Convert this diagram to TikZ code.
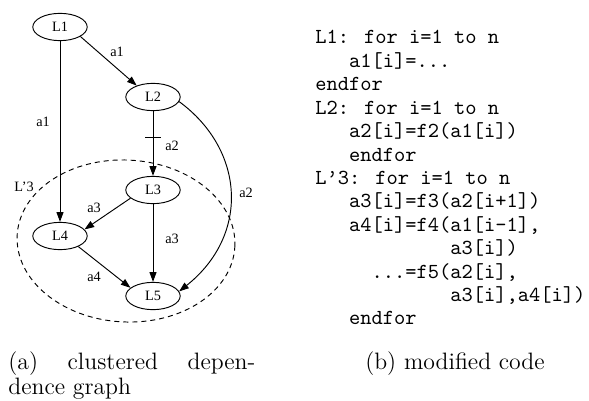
\documentclass[tikz,border=0pt]{standalone}
\usepackage{fontspec}
\newfontfamily\gfont{Liberation Serif}
\usetikzlibrary{shapes.geometric,arrows.meta}
\begin{document}
\begin{tikzpicture}[x=0.47619pt,y=-0.47619pt,
  state/.style={ellipse, draw, line width=0.45pt, minimum width=25.9pt, minimum height=13pt, inner sep=0pt, font=\gfont\fontsize{6.8}{8}\selectfont},
  lbl/.style={inner sep=0pt, font=\gfont\fontsize{6.8}{8}\selectfont},
  edge/.style={line width=0.45pt, -{Triangle[length=4.6pt,width=3.3pt]}},
  cluster/.style={ellipse, draw, dashed, dash pattern=on 2.4pt off 1.9pt, line width=0.45pt, minimum width=103.8pt, minimum height=77.1pt, inner sep=0pt},
  codeline/.style={anchor=base west, inner sep=0pt, font=\ttfamily\fontsize{10.2}{12}\selectfont},
  caption/.style={anchor=base west, inner sep=0pt, font=\rmfamily\fontsize{11.3}{13.6}\selectfont}]
\useasboundingbox (0,0) rectangle (589,401);
% cluster
\node[cluster, rotate=-3] (C) at (126,241) {};
\node[lbl] (CL) at (24,187) {L’3};
% nodes
\node[state] (L1) at (60,27) {L1};
\node[state] (L2) at (153,97) {L2};
\node[state] (L3) at (153,190) {L3};
\node[state] (L4) at (60,236) {L4};
\node[state] (L5) at (153,296) {L5};
% edges
\draw[edge] (L1) -- (L4);
\draw[edge] (L1.-25) -- (L2.145);
\draw[edge] (L2) -- coordinate[pos=0.41] (tk) (L3);
\draw[line width=0.45pt] ([xshift=-3.8pt]tk) -- ([xshift=3.8pt]tk);
\draw[edge] (L2.-10) .. controls (245,150) and (250,235) .. (L5.10);
\draw[edge] (L3.-160) -- (L4.15);
\draw[edge] (L3) -- (L5);
\draw[edge] (L4.-30) -- (L5.160);
% edge labels
\node[lbl] (e1) at (43,122) {a1};
\node[lbl] (e2) at (117,52) {a1};
\node[lbl] (e3) at (172,146) {a2};
\node[lbl] (e4) at (246,193) {a2};
\node[lbl] (e5) at (94,208) {a3};
\node[lbl] (e6) at (172,239) {a3};
\node[lbl] (e7) at (94,277) {a4};
% code
\node[codeline] (c1) at (315,44) {L1: for i=1 to n};
\node[codeline] (c2) at (348.75,67.4) {a1[i]=...};
\node[codeline] (c3) at (315,90.8) {endfor};
\node[codeline] (c4) at (315,114.2) {L2: for i=1 to n};
\node[codeline] (c5) at (348.75,137.6) {a2[i]=f2(a1[i])};
\node[codeline] (c6) at (348.75,161) {endfor};
\node[codeline] (c7) at (315,184.4) {L’3: for i=1 to n};
\node[codeline] (c8) at (348.75,207.8) {a3[i]=f3(a2[i+1])};
\node[codeline] (c9) at (348.75,231.2) {a4[i]=f4(a1[i-1],};
\node[codeline] (c10) at (450,254.6) {a3[i])};
\node[codeline] (c11) at (371.25,278) {...=f5(a2[i],};
\node[codeline] (c12) at (450,301.4) {a3[i],a4[i])};
\node[codeline] (c13) at (348.75,324.8) {endfor};
% captions
\node[caption] (ca1) at (8,369) {\makebox[117.6pt][s]{(a) clustered depen-}};
\node[caption] (ca2) at (8,394) {dence graph};
\node[caption, anchor=base] (cb) at (455,369) {(b) modified code};
\end{tikzpicture}
\end{document}
